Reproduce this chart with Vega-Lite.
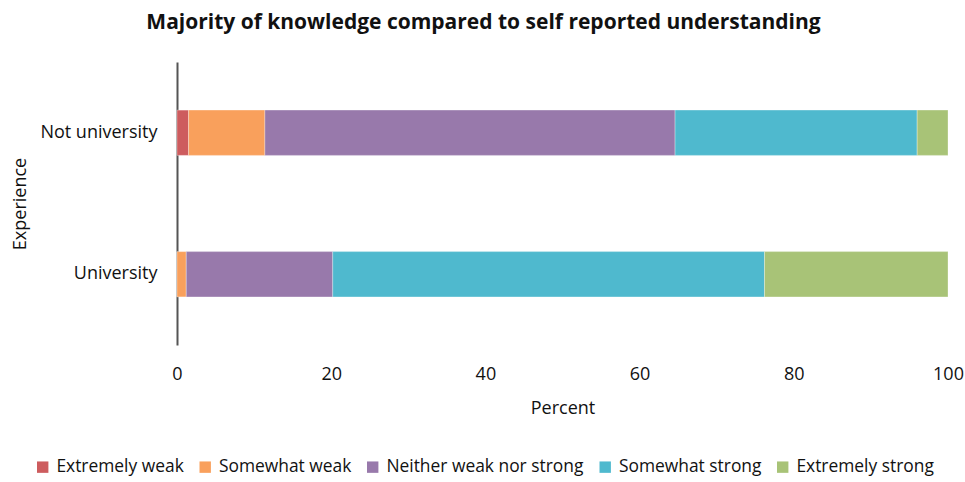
{
  "$schema": "https://vega.github.io/schema/vega-lite/v6.json",
  "width": 771,
  "height": 283,
  "autosize": {"type": "none"},
  "padding": {"left": 177, "top": 62, "right": 17, "bottom": 137},
  "background": "white",
  "title": {
    "text": "Majority of knowledge compared to self reported understanding",
    "font": "Open Sans",
    "fontSize": 21,
    "fontWeight": "bold",
    "color": "#111111",
    "anchor": "middle",
    "dx": -79,
    "offset": 29
  },
  "config": {
    "view": {"stroke": null},
    "font": "Open Sans"
  },
  "data": {
    "values": [
      {"exp": "Not university", "level": "Extremely weak", "ord": 1, "pct": 1.5},
      {"exp": "Not university", "level": "Somewhat weak", "ord": 2, "pct": 9.9},
      {"exp": "Not university", "level": "Neither weak nor strong", "ord": 3, "pct": 53.2},
      {"exp": "Not university", "level": "Somewhat strong", "ord": 4, "pct": 31.4},
      {"exp": "Not university", "level": "Extremely strong", "ord": 5, "pct": 4.0},
      {"exp": "University", "level": "Extremely weak", "ord": 1, "pct": 0},
      {"exp": "University", "level": "Somewhat weak", "ord": 2, "pct": 1.2},
      {"exp": "University", "level": "Neither weak nor strong", "ord": 3, "pct": 19.0},
      {"exp": "University", "level": "Somewhat strong", "ord": 4, "pct": 56.0},
      {"exp": "University", "level": "Extremely strong", "ord": 5, "pct": 23.8}
    ]
  },
  "mark": {"type": "bar", "stroke": "white", "strokeWidth": 0.5, "strokeOpacity": 0.6},
  "encoding": {
    "y": {
      "field": "exp",
      "type": "nominal",
      "sort": ["Not university", "University"],
      "scale": {"paddingInner": 0.68, "paddingOuter": 0.34},
      "axis": {
        "title": "Experience",
        "titleFont": "Open Sans",
        "titleFontSize": 18,
        "titleFontWeight": "normal",
        "titleColor": "#111111",
        "titlePadding": 10,
        "labelFont": "Open Sans",
        "labelFontSize": 18,
        "labelColor": "#111111",
        "labelPadding": 20,
        "labelLimit": 300,
        "ticks": false,
        "domainColor": "#555555",
        "domainWidth": 2
      }
    },
    "x": {
      "field": "pct",
      "type": "quantitative",
      "stack": "zero",
      "scale": {"domain": [0, 100]},
      "axis": {
        "title": "Percent",
        "titleFont": "Open Sans",
        "titleFontSize": 18,
        "titleFontWeight": "normal",
        "titleColor": "#111111",
        "titlePadding": 16,
        "labelFont": "Open Sans",
        "labelFontSize": 18,
        "labelColor": "#111111",
        "labelPadding": 20,
        "values": [0, 20, 40, 60, 80, 100],
        "ticks": false,
        "domain": false,
        "grid": false,
        "labelFlush": false
      }
    },
    "color": {
      "field": "level",
      "type": "nominal",
      "sort": ["Extremely weak", "Somewhat weak", "Neither weak nor strong", "Somewhat strong", "Extremely strong"],
      "scale": {
        "domain": ["Extremely weak", "Somewhat weak", "Neither weak nor strong", "Somewhat strong", "Extremely strong"],
        "range": ["#cd5c5e", "#f9a05c", "#9879ab", "#4fb9ce", "#a8c377"]
      },
      "legend": {
        "title": null,
        "orient": "none",
        "direction": "horizontal",
        "legendX": -143,
        "legendY": 396,
        "symbolType": "square",
        "symbolSize": 130,
        "symbolStrokeWidth": 0,
        "labelFont": "Open Sans",
        "labelFontSize": 17.4,
        "labelColor": "#111111",
        "labelLimit": 400,
        "labelOffset": 5,
        "columnPadding": 12.5
      }
    },
    "order": {"field": "ord", "type": "quantitative"}
  }
}
